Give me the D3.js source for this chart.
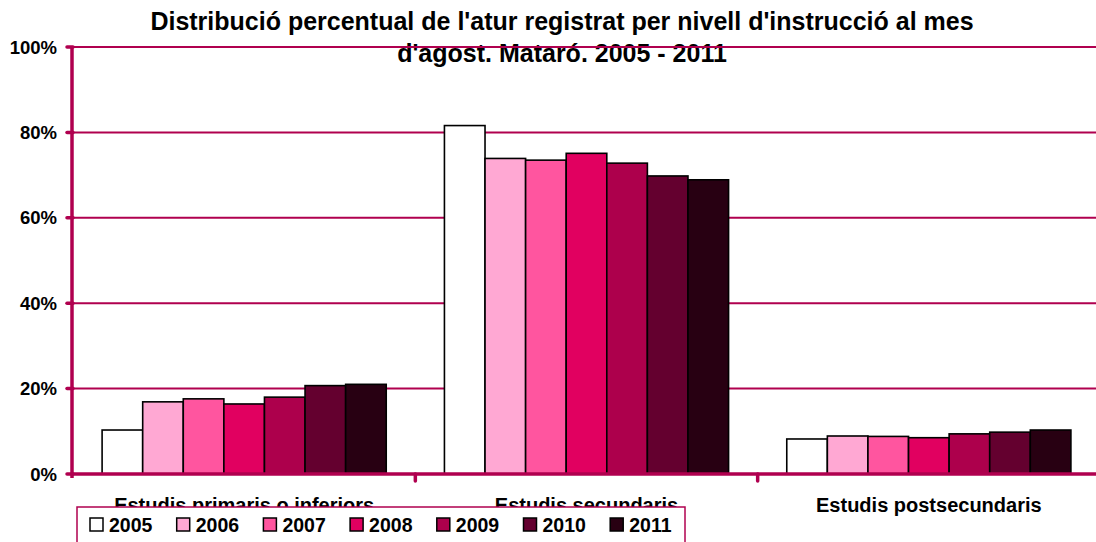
<!DOCTYPE html>
<html lang="ca">
<head>
    <meta charset="UTF-8">
    <title>Distribució percentual de l'atur registrat</title>
    <script src="https://d3js.org/d3.v7.min.js"></script>
    <style>
        body { margin: 0; background: #fff; }
        text { font-family: "Liberation Sans", Arial, sans-serif; font-weight: bold; fill: #000; }
    </style>
</head>
<body>
    <script>
        // Data
        const categories = ["Estudis primaris o inferiors", "Estudis secundaris", "Estudis postsecundaris"];
        const years = ["2005", "2006", "2007", "2008", "2009", "2010", "2011"];
        const values = {
            "2005": [10.3, 81.6, 8.2],
            "2006": [16.9, 73.9, 8.9],
            "2007": [17.6, 73.5, 8.8],
            "2008": [16.4, 75.1, 8.5],
            "2009": [18.0, 72.8, 9.4],
            "2010": [20.7, 69.8, 9.8],
            "2011": [21.0, 68.9, 10.3]
        };
        const colors = ["#ffffff", "#ffa8d3", "#ff559f", "#e10060", "#ad004c", "#64002f", "#280012"];
        const yTicks = [0, 20, 40, 60, 80, 100];
        const titleLines = ["Distribució percentual de l'atur registrat per nivell d'instrucció al mes",
                            "d'agost. Mataró. 2005 - 2011"];

        const width = 1096, height = 542;
        const axisColor = "#b0004f";
        const plotLeft = 73, plotRight = 1100, plotTop = 47, plotBottom = 474;

        const svg = d3.select("body").append("svg")
            .attr("width", width)
            .attr("height", height);

        const x0 = d3.scaleBand().domain(categories).range([plotLeft, plotRight]);
        const groupW = x0.bandwidth() * 0.83;
        const x1 = d3.scaleBand().domain(years).range([0, groupW]);
        const y = d3.scaleLinear().domain([0, 100]).range([plotBottom, plotTop]);
        const color = d3.scaleOrdinal().domain(years).range(colors);

        // title (gridline runs over it in the original)
        svg.append("g")
            .selectAll("text")
            .data(titleLines)
            .enter().append("text")
            .attr("x", 562)
            .attr("y", (d, i) => 30 + i * 32)
            .attr("text-anchor", "middle")
            .style("font-size", "25px")
            .text(d => d);

        // gridlines
        svg.append("g")
            .selectAll("line")
            .data(yTicks.filter(t => t > 0))
            .enter().append("line")
            .attr("x1", plotLeft).attr("x2", width)
            .attr("y1", d => y(d)).attr("y2", d => y(d))
            .attr("stroke", axisColor)
            .attr("stroke-width", 2);

        // bars
        const rows = [];
        years.forEach(yr => values[yr].forEach((v, i) => rows.push({ year: yr, cat: categories[i], v: v })));
        svg.append("g")
            .selectAll("rect")
            .data(rows)
            .enter().append("rect")
            .attr("x", d => x0(d.cat) + (x0.bandwidth() - groupW) / 2 + x1(d.year))
            .attr("y", d => y(d.v))
            .attr("width", x1.bandwidth())
            .attr("height", d => y(0) - y(d.v))
            .attr("fill", d => color(d.year))
            .attr("stroke", "#000")
            .attr("stroke-width", 1.6);

        // y axis
        const yAxis = svg.append("g");
        yAxis.append("line")
            .attr("x1", plotLeft - 1).attr("x2", plotLeft - 1)
            .attr("y1", plotTop).attr("y2", plotBottom + 4)
            .attr("stroke", axisColor).attr("stroke-width", 3.5);
        yAxis.selectAll(".tick")
            .data(yTicks)
            .enter().append("line")
            .attr("x1", plotLeft - 6).attr("x2", plotLeft)
            .attr("y1", d => y(d)).attr("y2", d => y(d))
            .attr("stroke", axisColor).attr("stroke-width", 3.5)
            .attr("stroke-linecap", "round");
        yAxis.selectAll("text")
            .data(yTicks)
            .enter().append("text")
            .attr("x", 57)
            .attr("y", d => y(d) + 6.5)
            .attr("text-anchor", "end")
            .style("font-size", "18.5px")
            .text(d => d + "%");

        // x axis
        svg.append("line")
            .attr("x1", plotLeft - 2).attr("x2", width)
            .attr("y1", plotBottom).attr("y2", plotBottom)
            .attr("stroke", axisColor).attr("stroke-width", 3.5);
        svg.append("g")
            .selectAll("line")
            .data(categories.slice(1))
            .enter().append("line")
            .attr("x1", d => x0(d)).attr("x2", d => x0(d))
            .attr("y1", plotBottom).attr("y2", plotBottom + 7)
            .attr("stroke", axisColor).attr("stroke-width", 3.5)
            .attr("stroke-linecap", "round");
        svg.append("g")
            .selectAll("text")
            .data(categories)
            .enter().append("text")
            .attr("x", d => x0(d) + x0.bandwidth() / 2)
            .attr("y", 512)
            .attr("text-anchor", "middle")
            .style("font-size", "20px")
            .text(d => d);

        // legend
        const legend = svg.append("g");
        legend.append("rect")
            .attr("x", 77).attr("y", 507)
            .attr("width", 608).attr("height", 50)
            .attr("fill", "#fff")
            .attr("stroke", axisColor).attr("stroke-width", 1.5);
        const item = legend.selectAll(".item")
            .data(years)
            .enter().append("g")
            .attr("transform", (d, i) => `translate(${90 + i * 86.7},518)`);
        item.append("rect")
            .attr("width", 13).attr("height", 13)
            .attr("fill", d => color(d))
            .attr("stroke", "#000").attr("stroke-width", 1.5);
        item.append("text")
            .attr("x", 19).attr("y", 14)
            .style("font-size", "19.5px")
            .text(d => d);
    </script>
</body>
</html>
